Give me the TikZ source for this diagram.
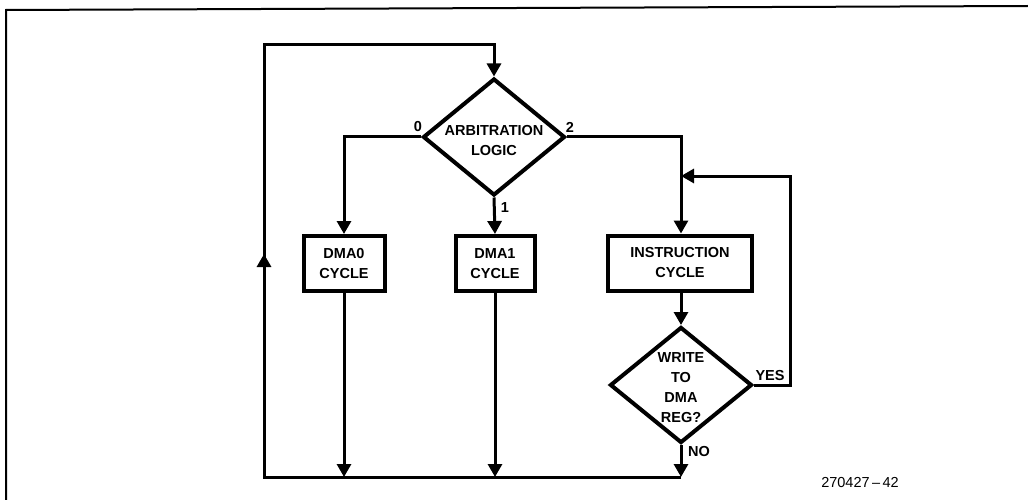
\documentclass[tikz,border=0pt]{standalone}
\usepackage{fontspec}
\setmainfont{Liberation Sans}
\usetikzlibrary{shapes.geometric,arrows.meta}
\begin{document}
\begin{tikzpicture}[x=1pt,y=-1pt,
  txt/.style={font=\bfseries\fontsize{14.5}{20}\selectfont},
  lbl/.style={txt, inner sep=0pt},
  boxnode/.style={txt, draw, line width=4pt, rectangle, align=center, inner sep=0pt,
     minimum height=55pt},
  decision/.style={draw, line width=4pt, diamond, inner sep=0pt,
     minimum width=142pt, minimum height=117pt},
  dtext/.style={txt, align=center, inner sep=0pt},
  flow/.style={line width=3pt},
  arr/.style={flow, -{Triangle[width=14pt,length=13pt]}}]
\useasboundingbox (0,0) rectangle (1028,500);
% frame
\draw[line width=2pt] (6,500) -- (6,10) -- (1028,6);
% nodes
\node[decision, label={[dtext, yshift=-4pt]center:ARBITRATION\\LOGIC}] (arb) at (494,137) {};
\node[boxnode, minimum width=81pt] (dma0) at (344,263.5) {DMA0\\CYCLE};
\node[boxnode, minimum width=79pt] (dma1) at (495,263.5) {DMA1\\CYCLE};
\node[boxnode, minimum width=144pt] (instr) at (680,263) {INSTRUCTION\\CYCLE};
\node[decision, minimum height=116pt, label={[dtext, yshift=-3pt]center:WRITE\\TO\\DMA\\REG?}] (wr) at (681,385) {};
% coordinates
\coordinate (bl) at (264,477);
\coordinate (tl) at (264,45);
\coordinate (fb) at (681,176);
\coordinate (fr) at (790,176);
% connectors
\draw[arr] (arb.west) -| (dma0.north);
\draw[arr] (arb.south) -- (dma1.north);
\draw[arr] (arb.east) -| (fb) -- (instr.north -| fb);
\draw[arr] (instr.south -| wr) -- (wr.north);
\draw[arr] (wr.east) -| (fr) -- (fb);
\draw[arr] (dma0.south) -- (dma0.south |- bl);
\draw[arr] (dma1.south) -- (dma1.south |- bl);
\draw[arr] (wr.south) -- (wr.south |- bl);
\draw[arr] (wr.south |- bl) -- (bl) -- (tl) -| (arb.north);
\draw[arr] (bl) -- (264,254);
% labels
\node[lbl] (l0) at (418,127) {0};
\node[lbl] (l2) at (570,127) {2};
\node[lbl] (l1) at (505,208) {1};
\node[lbl] (lyes) at (770,376) {YES};
\node[lbl] (lno) at (699,452) {NO};
\node[font=\fontsize{14.5}{16}\selectfont, inner sep=0pt] (cap) at (860,483) {270427\,--\,42};
\end{tikzpicture}
\end{document}
